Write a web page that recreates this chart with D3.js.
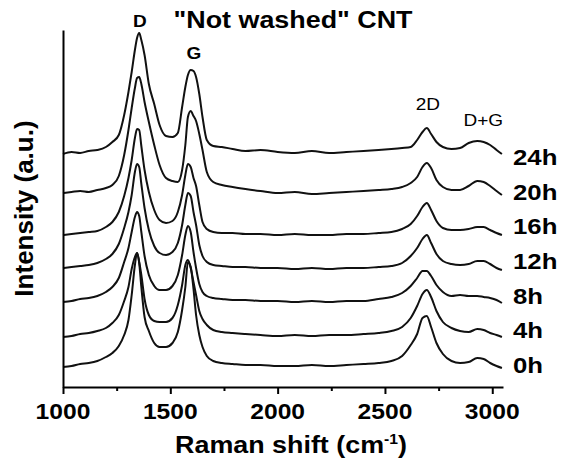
<!DOCTYPE html>
<html>
<head>
<meta charset="utf-8">
<script src="https://cdn.jsdelivr.net/npm/d3@7"></script>
<style>
  html, body { margin: 0; padding: 0; background: #fff; }
  svg { display: block; }
</style>
</head>
<body>
<div id="chart"></div>
<script>
// Raman shift (cm-1) where each spectrum was read
const shifts = [1000,1040,1080,1120,1160,1200,1230,1260,1285,1305,1320,1335,1345,1355,1365,1380,
  1400,1425,1450,1480,1510,1535,1555,1570,1582,1595,1608,1620,1635,1650,1670,1700,1740,1790,1850,1920,
  2000,2080,2160,2240,2320,2400,2470,2530,2580,2620,2650,2675,2695,2715,2740,2770,
  2810,2850,2890,2930,2960,2990,3020,3045];

// offset intensities (a.u.), one per time
const hours = ["0h", "4h", "8h", "12h", "16h", "20h", "24h"];
const int0h = [20,21,23,24,26,30,34,41,52,67,92,122,134,124,100,70,56,44,40,40,44,55,77,100,125,120,
  98,72,52,40,31,26,24,23,22,22,21,21,22,21,22,23,24,26,31,42,53,69,71,60,44,33,26,24,25,29,28,24,21,19];
const int4h = [50,51,53,54,56,59,64,72,86,100,118,130,134,125,112,88,72,66,65,65,69,82,102,122,127,119,
  105,92,76,68,62,57,55,54,53,52,51,52,51,52,52,53,54,56,60,69,81,93,97,90,76,65,59,56,55,58,57,54,52,50];
const int8h = [85,86,88,89,91,95,100,109,125,139,155,170,175,171,155,131,112,101,97,97,101,112,132,152,161,155,
  135,119,103,95,91,89,88,87,87,86,86,85,86,85,86,86,88,90,94,101,109,116,116,111,102,95,91,92,91,91,90,89,87,84];
const int12h = [119,120,121,122,124,128,133,143,159,175,192,215,223,220,203,179,157,141,134,132,135,144,162,182,194,191,
  175,162,142,131,125,122,121,120,120,119,119,118,119,118,119,119,120,121,124,131,139,148,152,144,133,126,123,122,123,126,126,123,119,117];
const int16h = [152,153,154,155,156,160,165,175,191,209,227,249,258,257,241,217,195,177,167,164,166,175,192,212,223,220,
  209,201,182,165,158,155,154,154,153,153,152,153,152,152,153,153,154,155,158,163,171,180,184,177,166,159,157,157,158,160,160,157,154,152];
const int20h = [194,195,196,195,197,199,202,211,232,257,279,299,309,310,303,285,265,242,222,209,206,205,217,242,270,276,
  271,266,253,237,215,205,202,200,198,196,194,195,193,194,195,196,197,198,200,204,210,220,224,219,207,200,197,197,201,206,205,201,196,192];
const int24h = [233,235,234,236,237,240,245,252,272,295,315,337,349,354,347,332,303,283,262,251,250,254,280,300,312,317,
  316,310,293,270,247,241,240,238,236,237,235,234,236,234,235,236,237,238,239,240,247,255,259,253,245,240,238,239,244,246,245,242,237,233];

const xTicks = [1000, 1500, 2000, 2500, 3000];
const xMinorTicks = [1250, 1750, 2250, 2750];
const peakNames = ["D", "G", "2D", "D+G"];
const peakShifts = [1358, 1610, 2700, 2958];

const series = [int0h, int4h, int8h, int12h, int16h, int20h, int24h];

const width = 561;
const height = 464;
const plotLeft = 63, plotRight = 503, plotTop = 30, plotBottom = 387;
const font = "'Liberation Sans', Arial, Helvetica, sans-serif";
const stretch = 1.12;

const x = d3.scaleLinear().domain([1000, 3050]).range([plotLeft, plotRight]);
const y = d3.scaleLinear().domain([0, 357]).range([plotBottom, plotTop]);

const svg = d3.select("#chart")
    .append("svg")
    .attr("width", width)
    .attr("height", height)
    .style("background", "#fff");

// text drawn a little wider, like the source picture
function label(px, py, txt, size, weight, anchor) {
    return svg.append("text")
        .attr("transform", "translate(" + px + "," + py + ") scale(" + stretch + ",1)")
        .attr("text-anchor", anchor || "middle")
        .style("font-family", font)
        .style("font-size", size + "px")
        .style("font-weight", weight)
        .style("fill", "#000")
        .text(txt);
}

const line = d3.line()
    .x((d, i) => x(shifts[i]))
    .y(d => y(d))
    .curve(d3.curveMonotoneX);

svg.append("g")
    .selectAll("path")
    .data(series)
    .enter()
    .append("path")
    .attr("d", line)
    .attr("fill", "none")
    .attr("stroke", "#111")
    .attr("stroke-width", 2)
    .attr("stroke-linejoin", "round");

// x axis
const xAxis = svg.append("g")
    .attr("transform", "translate(0," + plotBottom + ")")
    .call(d3.axisBottom(x).tickValues(xTicks).tickSize(7).tickSizeOuter(0).tickFormat(d3.format("d")));
xAxis.select(".domain").attr("stroke", "#000").attr("stroke-width", 2);
xAxis.selectAll(".tick line").attr("stroke", "#000").attr("stroke-width", 2);
xAxis.selectAll(".tick text").remove();

const xMinor = svg.append("g")
    .attr("transform", "translate(0," + plotBottom + ")")
    .call(d3.axisBottom(x).tickValues(xMinorTicks).tickSize(4).tickSizeOuter(0).tickFormat(""));
xMinor.select(".domain").remove();
xMinor.selectAll(".tick line").attr("stroke", "#000").attr("stroke-width", 2);

xTicks.forEach(t => label(x(t), 419, t, 22, "bold"));

// y axis: bare line
const yAxis = svg.append("g")
    .attr("transform", "translate(" + plotLeft + ",0)")
    .call(d3.axisLeft(y).tickValues([]).tickSizeOuter(0));
yAxis.select(".domain").attr("stroke", "#000").attr("stroke-width", 2);

// axis titles
const xt = label((plotLeft + plotRight) / 2 + 8, 453, "Raman shift (cm", 24, "bold");
xt.append("tspan").attr("dy", -9).style("font-size", "14px").text("-1");
xt.append("tspan").attr("dy", 9).text(")");

svg.append("text")
    .attr("transform", "translate(33," + (plotTop + plotBottom) / 2 + ") rotate(-90)")
    .attr("text-anchor", "middle")
    .style("font-family", font)
    .style("font-size", "26px")
    .style("font-weight", "bold")
    .text("Intensity (a.u.)");

// title
label(293, 28, "\"Not washed\" CNT", 24, "bold");

// peak names
const peakY = [27, 59, 110, 126];
peakNames.forEach((n, i) => label(x(peakShifts[i]), peakY[i], n, 17, i < 2 ? "bold" : "normal"));

// time labels on the right
hours.forEach((h, i) => label(513, 373 - i * 34.7, h, 23, "bold", "start"));
</script>
</body>
</html>
